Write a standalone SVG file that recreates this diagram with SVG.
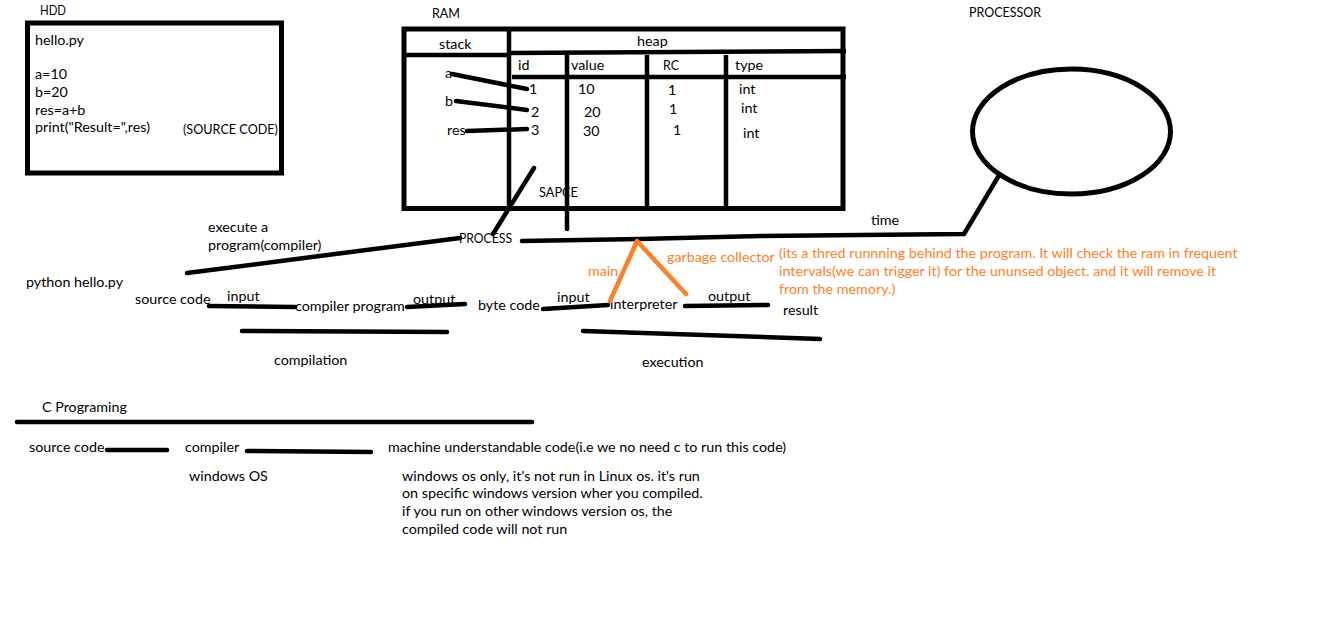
<svg xmlns="http://www.w3.org/2000/svg" width="1344" height="619" viewBox="0 0 1344 619">
<style>
text{font-family:Lato,"Open Sans","Liberation Sans",sans-serif;font-size:14.3px;fill:#000}
.o{fill:#FF7F27}
.k{stroke:#000;stroke-width:4.5;stroke-linecap:round;stroke-linejoin:round;fill:none}
.b{stroke:#000;stroke-width:5;fill:none}
.ln{stroke:#000;stroke-width:4.5;fill:none}
.or{stroke:#FF7F27;stroke-width:4.5;stroke-linecap:round;stroke-linejoin:round;fill:none}
</style>
<rect width="1344" height="619" fill="#fff"/>

<g id="hdd">
<text x="40" y="15" textLength="26" lengthAdjust="spacingAndGlyphs">HDD</text>
<rect class="b" x="27.5" y="23" width="254" height="150"/>
<text x="35" y="45">hello.py</text>
<text x="35" y="79">a=10</text>
<text x="35" y="97">b=20</text>
<text x="35" y="115">res=a+b</text>
<text x="35" y="132">print("Result=",res)</text>
<text x="183" y="134" textLength="95" lengthAdjust="spacingAndGlyphs">(SOURCE CODE)</text>
</g>

<g id="ram">
<text x="432" y="18" textLength="28" lengthAdjust="spacingAndGlyphs">RAM</text>
<rect class="b" x="404" y="29" width="439" height="179.5"/>
<path class="ln" d="M406 55 L510 55"/>
<path class="ln" d="M510 53 L846 51"/>
<path class="ln" d="M509 29 V210"/>
<path class="ln" d="M512 77 L846 77"/>
<path class="k" d="M567 55 V229"/>
<path class="ln" d="M647 55 V208"/>
<path class="ln" d="M726 55 V208"/>
<text x="439" y="49">stack</text>
<text x="637" y="46">heap</text>
<text x="518" y="70">id</text>
<text x="571" y="70">value</text>
<text x="663" y="70" textLength="16" lengthAdjust="spacingAndGlyphs">RC</text>
<text x="735" y="70">type</text>
<text x="445" y="78">a</text>
<text x="445" y="106">b</text>
<text x="447" y="135">res</text>
<text x="529" y="94">1</text>
<text x="531" y="117">2</text>
<text x="531" y="135">3</text>
<text x="578" y="94">10</text>
<text x="584" y="117">20</text>
<text x="583" y="136">30</text>
<text x="668" y="95">1</text>
<text x="669" y="114">1</text>
<text x="673" y="135">1</text>
<text x="739" y="94">int</text>
<text x="741" y="113">int</text>
<text x="743" y="138">int</text>
<text x="539" y="197" textLength="39" lengthAdjust="spacingAndGlyphs">SAPCE</text>
</g>

<g id="processor">
<text x="969" y="17" textLength="72" lengthAdjust="spacingAndGlyphs">PROCESSOR</text>
<ellipse class="b" cx="1071.5" cy="131.5" rx="99" ry="62.5"/>
</g>

<g id="process">
<text x="459" y="243" textLength="53" lengthAdjust="spacingAndGlyphs">PROCESS</text>
</g>

<g id="labels">
<text x="208" y="232">execute a</text>
<text x="208" y="250">program(compiler)</text>
<text x="26" y="287">python hello.py</text>
<text x="135" y="304">source code</text>
<text x="227" y="301">input</text>
<text x="295" y="311">compiler program</text>
<text x="413" y="304">output</text>
<text x="274" y="365">compilation</text>
<text x="478" y="310">byte code</text>
<text x="557" y="302">input</text>
<text x="610" y="309">interpreter</text>
<text x="708" y="301">output</text>
<text x="783" y="315">result</text>
<text x="642" y="367">execution</text>
<text x="871" y="225">time</text>
<text class="o" x="588" y="276">main</text>
<text class="o" x="667" y="262">garbage collector</text>
<text class="o" x="779" y="258">(its a thred runnning behind the program. It will check the ram in frequent</text>
<text class="o" x="779" y="276">intervals(we can trigger it) for the ununsed object. and it will remove it</text>
<text class="o" x="779" y="294">from the memory.)</text>
<text x="42" y="412">C Programing</text>
<text x="29" y="452">source code</text>
<text x="185" y="452">compiler</text>
<text x="388" y="452">machine understandable code(i.e we no need c to run this code)</text>
<text x="189" y="481">windows OS</text>
<text x="402" y="481">windows os only, it's not run in Linux os. it's run</text>
<text x="402" y="498">on specific windows version wher you compiled.</text>
<text x="402" y="516">if you run on other windows version os, the</text>
<text x="402" y="534">compiled code will not run</text>
</g>

<g id="connectors">
<path class="k" d="M452 74 L527 89"/>
<path class="k" d="M456 101 L527 110"/>
<path class="k" d="M467 131 L527 129"/>
<path class="k" d="M534 168 L493 234"/>
<path class="k" d="M187 273 L460 238"/>
<path class="k" d="M522 241 L640 239 L760 236 L860 235 L964 234 L998 177"/>
<path class="or" d="M610 301 L637 241 L686 294"/>
<path class="k" d="M209 306 L295 307"/>
<path class="k" d="M407 307 L465 304"/>
<path class="k" d="M242 331 L447 332"/>
<path class="k" d="M543 309 L608 305"/>
<path class="k" d="M685 306 L768 305"/>
<path class="k" d="M583 331 L820 339"/>
<path class="k" d="M17 422 L532 422"/>
<path class="k" d="M107 450 L167 450"/>
<path class="k" d="M247 451 L371 452"/>
</g>
</svg>
